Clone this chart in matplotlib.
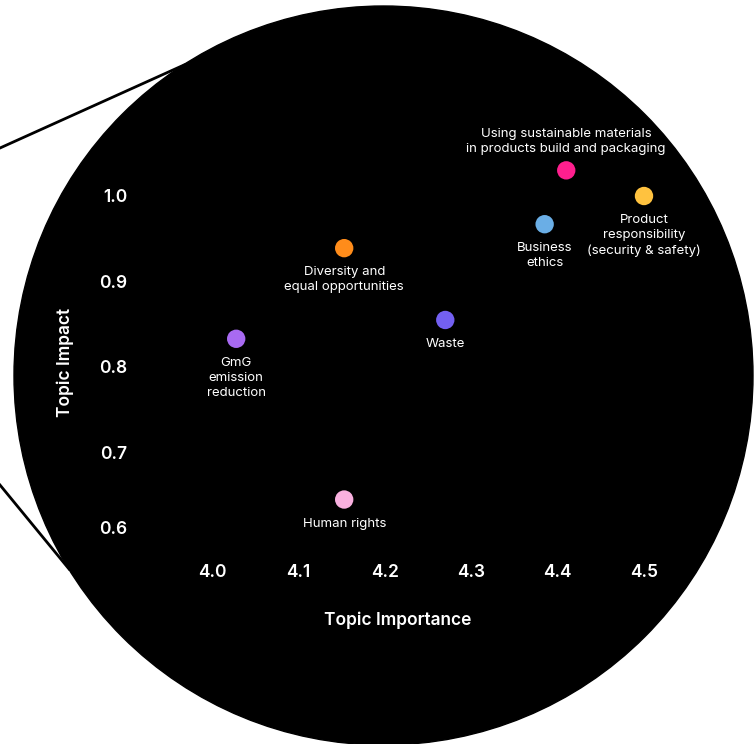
import matplotlib.pyplot as plt
from matplotlib.patches import Circle

# ---- data ----
topics = [
    "Using sustainable materials\nin products build and packaging",
    "Product\nresponsibility\n(security & safety)",
    "Business\nethics",
    "Diversity and\nequal opportunities",
    "Waste",
    "GmG\nemission\nreduction",
    "Human rights",
]
importance = [4.41, 4.50, 4.385, 4.153, 4.27, 4.028, 4.153]
impact = [1.03, 1.00, 0.967, 0.939, 0.855, 0.833, 0.645]
colors = ["#ff1f8e", "#ffc23f", "#6aaee6", "#ff8c1a", "#7360f2", "#a86af2", "#f9b0df"]
label_above = [True, False, False, False, False, False, False]

x_ticks = [4.0, 4.1, 4.2, 4.3, 4.4, 4.5]
y_ticks = [0.6, 0.7, 0.8, 0.9, 1.0]

plt.rcParams["font.family"] = ["Inter", "DejaVu Sans"]

W, H = 755, 744
fig = plt.figure(figsize=(W / 100, H / 100), dpi=100)
fig.patch.set_facecolor("white")

# background layer in pixel coords (y down)
bg = fig.add_axes([0, 0, 1, 1])
bg.set_xlim(0, W)
bg.set_ylim(H, 0)
bg.axis("off")
bg.add_patch(Circle((383.5, 375.5), 369.5, color="black", zorder=1))
bg.plot([0, 184], [148, 65], color="black", lw=2, zorder=2)
bg.plot([0, 69], [485, 569], color="black", lw=2, zorder=2)

# data axes: 4.0 -> 212px, 86.4px per 0.1 ; 1.0 -> 196px, 85.5px per 0.1
x0, x1 = 3.95, 4.56
y0, y1 = 0.6, 1.06
px_l = 212 + (x0 - 4.0) * 864
px_r = 212 + (x1 - 4.0) * 864
py_b = 196 + (1.0 - y0) * 855
py_t = 196 + (1.0 - y1) * 855
ax = fig.add_axes([px_l / W, 1 - py_b / H, (px_r - px_l) / W, (py_b - py_t) / H])
ax.set_xlim(x0, x1)
ax.set_ylim(y0, y1)
ax.patch.set_alpha(0)
for s in ax.spines.values():
    s.set_visible(False)

ax.scatter(importance, impact, s=175, c=colors, zorder=3, linewidths=0)

for name, x, y, above in zip(topics, importance, impact, label_above):
    if above:
        ax.annotate(name, (x, y), xytext=(0, 11), textcoords="offset points",
                    ha="center", va="bottom", color="white", fontsize=9.5,
                    linespacing=1.35)
    else:
        ax.annotate(name, (x, y), xytext=(0, -13), textcoords="offset points",
                    ha="center", va="top", color="white", fontsize=9.5,
                    linespacing=1.35)

ax.set_xticks(x_ticks)
ax.set_xticklabels([f"{v:.1f}" for v in x_ticks])
ax.set_yticks(y_ticks)
ax.set_yticklabels([f"{v:.1f}" for v in y_ticks])
ax.tick_params(length=0, colors="white", labelsize=12.5)
ax.tick_params(axis="x", pad=19)
ax.tick_params(axis="y", pad=30)
for t in ax.get_xticklabels() + ax.get_yticklabels():
    t.set_fontweight("semibold")
ax.get_yticklabels()[0].set_va("bottom")

ax.set_xlabel("Topic Importance", color="white", fontsize=12.5,
              fontweight="semibold")
ax.set_ylabel("Topic Impact", color="white", fontsize=12.5,
              fontweight="semibold")
# axis title positions (pixel -> axes fraction)
ax.xaxis.set_label_coords((398 - px_l) / (px_r - px_l), (py_b - 620) / (py_b - py_t))
ax.xaxis.label.set_va("center")
ax.yaxis.set_label_coords((65 - px_l) / (px_r - px_l), (py_b - 362) / (py_b - py_t))
ax.yaxis.label.set_va("center")

fig.savefig("out.png", dpi=100, facecolor="white")
